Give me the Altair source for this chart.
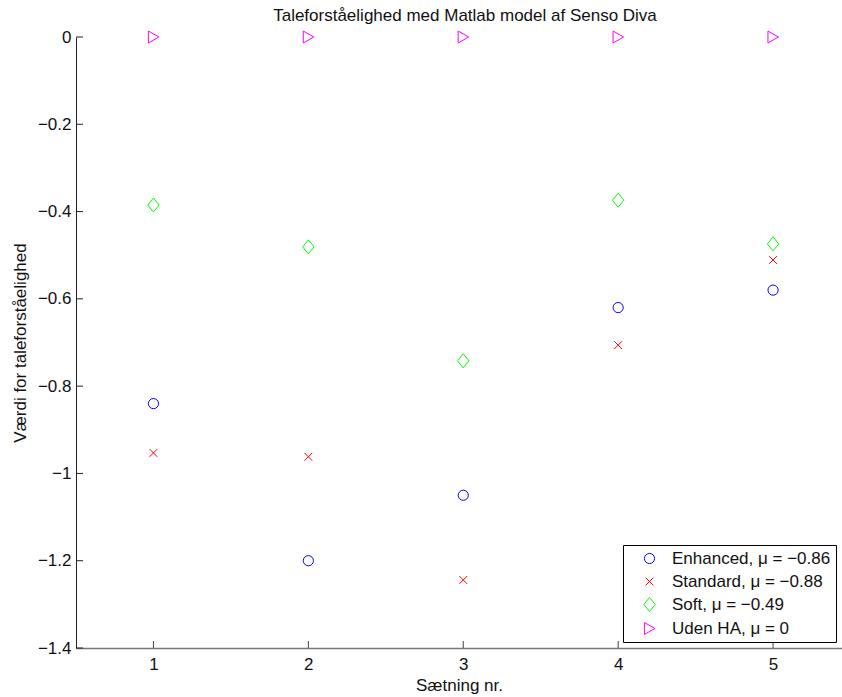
import altair as alt
import pandas as pd

# ---- data ----
x_values = [1, 2, 3, 4, 5]
series = ["Enhanced, μ = −0.86", "Standard, μ = −0.88", "Soft, μ = −0.49", "Uden HA, μ = 0"]
enhanced = [-0.84, -1.20, -1.05, -0.62, -0.58]
standard = [-0.953, -0.962, -1.244, -0.706, -0.511]
soft = [-0.385, -0.481, -0.742, -0.374, -0.474]
uden_ha = [0.0, 0.0, 0.0, 0.0, 0.0]

x_ticks = [1, 2, 3, 4, 5]
y_ticks = [0, -0.2, -0.4, -0.6, -0.8, -1.0, -1.2, -1.4]

colors = ["#0000ff", "#ff0000", "#00ff00", "#ff00ff"]
shapes = [
    "M-0.85,0A0.85,0.85 0 1,0 0.85,0A0.85,0.85 0 1,0 -0.85,0Z",
    "M-0.65,-0.65L0.65,0.65M-0.65,0.65L0.65,-0.65",
    "M0,-1.17L0.95,0L0,1.17L-0.95,0Z",
    "M-0.85,-1L0.9,0L-0.85,1Z",
]

rows = []
for name, vals in zip(series, [enhanced, standard, soft, uden_ha]):
    for xv, yv in zip(x_values, vals):
        rows.append({"x": xv, "y": yv, "series": name})
df = pd.DataFrame(rows)
ytick_df = pd.DataFrame({"y": y_ticks})
xtick_df = pd.DataFrame({"x": x_ticks})

W, H = 766, 611
xscale = alt.Scale(domain=[0.5, 5.445], nice=False, zero=False)
yscale = alt.Scale(domain=[-1.4, 0], nice=False, zero=False)
FONT = "Liberation Sans"
FS = 17

x_axis = alt.Axis(
    values=x_ticks, format="d", tickSize=0, grid=False, labelPadding=8,
    title="Sætning nr.", titlePadding=5, domainColor="#777777", domainWidth=1.5,
    labelFontSize=FS, titleFontSize=FS, titleFontWeight="normal",
    labelColor="#111111", titleColor="#111111", labelFont=FONT, titleFont=FONT)
y_axis = alt.Axis(
    values=y_ticks, format="~g", tickSize=0, grid=False, labelPadding=5,
    title="Værdi for taleforståelighed", titlePadding=8, domainColor="#222222",
    labelFontSize=FS, titleFontSize=FS, titleFontWeight="normal",
    labelColor="#111111", titleColor="#111111", labelFont=FONT, titleFont=FONT)

legend = alt.Legend(
    title=None, orient="none", legendX=547, legendY=508, strokeColor="black",
    fillColor="white", padding=5, symbolSize=144, symbolStrokeWidth=1,
    labelFontSize=FS, labelFont=FONT, labelColor="#111111", labelOffset=14,
    rowPadding=5, symbolOffset=13, labelLimit=400)

points = alt.Chart(df).mark_point(filled=False, strokeWidth=1, opacity=1, size=144).encode(
    x=alt.X("x:Q", scale=xscale, axis=x_axis),
    y=alt.Y("y:Q", scale=yscale, axis=y_axis),
    color=alt.Color("series:N", scale=alt.Scale(domain=series, range=colors), legend=legend),
    shape=alt.Shape("series:N", scale=alt.Scale(domain=series, range=shapes), legend=legend),
)

yticks = alt.Chart(ytick_df).mark_rule(color="#222222", strokeWidth=1).encode(
    y=alt.Y("y:Q", scale=yscale, axis=y_axis),
    x=alt.value(0), x2=alt.value(7),
)
xticks = alt.Chart(xtick_df).mark_rule(color="#444444", strokeWidth=1).encode(
    x=alt.X("x:Q", scale=xscale, axis=x_axis),
    y=alt.value(H), y2=alt.value(H - 7),
)

chart = alt.layer(points, yticks, xticks).properties(
    width=W, height=H,
    title=alt.TitleParams("Taleforståelighed med Matlab model af Senso Diva", fontSize=FS,
                          fontWeight="normal", font=FONT, color="#111111", offset=3,
                          anchor="middle", dx=6),
    autosize=alt.AutoSizeParams(type="none"),
    padding={"left": 76, "top": 37, "right": 0, "bottom": 49},
    background="white",
).configure_view(stroke=None)

chart.save("out.html", embed_options={"renderer": "svg", "actions": False})
